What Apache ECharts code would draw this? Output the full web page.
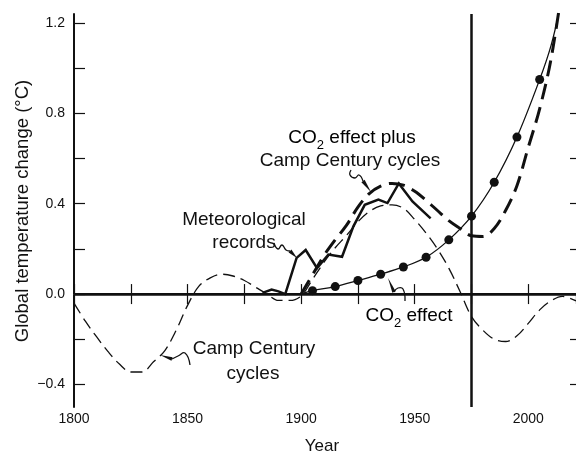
<!DOCTYPE html>
<html><head><meta charset="utf-8">
<script src="https://cdn.jsdelivr.net/npm/echarts@6/dist/echarts.min.js"></script>
<style>html,body{margin:0;padding:0;background:#fff}#c{width:576px;height:455px}</style>
</head><body><div id="c"></div>
<script>
// Camp Century cycles (thin dashed)
const campYears  = [1800,1805,1810,1815,1820,1825,1830,1835,1840,1845,1850,1855,1860,1865,1870,1875,1880,1885,1890,1895,1900,1905,1910,1915,1920,1925,1930,1935,1940,1945,1950,1955,1960,1965,1970,1975,1980,1985,1990,1995,2000,2005,2010,2015,2021];
const campValues = [-0.04,-0.12,-0.19,-0.255,-0.31,-0.345,-0.345,-0.30,-0.25,-0.16,-0.05,0.035,0.072,0.088,0.08,0.06,0.03,0.0,-0.028,-0.028,-0.008,0.065,0.14,0.205,0.26,0.32,0.365,0.39,0.395,0.38,0.33,0.27,0.2,0.115,0.01,-0.1,-0.16,-0.2,-0.21,-0.185,-0.13,-0.07,-0.03,-0.01,-0.03];
// CO2 effect plus Camp Century cycles (thick dashed)
const comboYears  = [1900,1905,1910,1915,1920,1925,1930,1935,1940,1945,1950,1955,1960,1965,1970,1975,1980,1985,1990,1995,2000,2005,2010,2015];
const comboValues = [0.0,0.085,0.17,0.24,0.305,0.385,0.445,0.478,0.49,0.482,0.455,0.415,0.37,0.325,0.29,0.258,0.255,0.29,0.37,0.48,0.65,0.82,1.04,1.36];
// Meteorological records (thick solid)
const meteoYears  = [1883,1887,1890,1893,1898,1902,1907,1912,1918,1923,1928,1934,1938,1943,1949,1957];
const meteoValues = [0.005,0.02,0.012,0.0,0.16,0.195,0.115,0.175,0.165,0.3,0.395,0.418,0.403,0.49,0.41,0.335];
// CO2 effect (thin solid with dots)
const co2Years  = [1900,1905,1915,1925,1935,1945,1955,1965,1975,1985,1995,2005,2010,2014];
const co2Values = [0.0,0.015,0.033,0.06,0.088,0.12,0.163,0.24,0.345,0.495,0.695,0.95,1.10,1.27];
const co2DotYears = [1905,1915,1925,1935,1945,1955,1965,1975,1985,1995,2005];
// axes
const xTickValues = [1800,1825,1850,1875,1900,1925,1950,1975,2000];
const xTickLabels = [1800,1850,1900,1950,2000];
const yTickValues = [-0.4,-0.2,0,0.2,0.4,0.6,0.8,1.0,1.2];
const yTickLabels = [-0.4,0,0.4,0.8,1.2];
const refYear = 1975;

const FONT = '"Liberation Sans", Arial, Helvetica, sans-serif';
const pairs = (xs, ys) => xs.map((x, i) => [x, ys[i]]);

const chart = echarts.init(document.getElementById('c'), null, {renderer: 'canvas'});

const xBase = {
  type: 'value', min: 1800, max: 2021, interval: 25,
  splitLine: {show: false},
  axisTick: {inside: true, length: 10, lineStyle: {color: '#111', width: 1.2}},
};
const yBase = {
  type: 'value', min: -0.5, max: 1.24,
  splitLine: {show: false},
};

function pointer(pts, tail, tip, hw) {
  const dx = tip[0] - tail[0], dy = tip[1] - tail[1];
  const L = Math.hypot(dx, dy);
  const px = -dy / L * hw, py = dx / L * hw;
  return [
    {type: 'polyline', shape: {points: pts, smooth: 0.5}, style: {stroke: '#111', lineWidth: 1.3, fill: null}, z: 50},
    {type: 'polygon', shape: {points: [[tail[0] + px, tail[1] + py], [tip[0], tip[1]], [tail[0] - px, tail[1] - py]]}, style: {fill: '#111'}, z: 50}
  ];
}

const richCO = {
  n: {fontSize: 19, fontFamily: FONT, color: '#111', lineHeight: 28},
  s: {fontSize: 13, fontFamily: FONT, color: '#111', lineHeight: 13, verticalAlign: 'bottom'}
};

const txt = (x, y, text, extra) => Object.assign({
  type: 'text', x: x, y: y, z: 60,
  style: {text: text, fontSize: 19, fontFamily: FONT, fill: '#111', align: 'center', verticalAlign: 'middle'}
}, extra || {});

const graphics = [
  // axis titles
  {type: 'text', x: 23, y: 211, rotation: Math.PI / 2, z: 60,
   style: {text: 'Global temperature change (°C)', fontSize: 18.5, fontFamily: FONT, fill: '#111', align: 'center', verticalAlign: 'middle'}},
  txt(322, 446, 'Year', {style: {text: 'Year', fontSize: 17, fontFamily: FONT, fill: '#111', align: 'center', verticalAlign: 'middle'}}),
  // annotations
  {type: 'text', x: 352, y: 138, z: 60, style: {text: '{n|CO}{s|2}{n| effect plus}', rich: richCO, align: 'center', verticalAlign: 'middle'}},
  txt(350, 161, 'Camp Century cycles'),
  txt(244, 220, 'Meteorological'),
  txt(244, 243, 'records'),
  {type: 'text', x: 409, y: 316, z: 60, style: {text: '{n|CO}{s|2}{n| effect}', rich: richCO, align: 'center', verticalAlign: 'middle'}},
  txt(254, 349, 'Camp Century'),
  txt(253, 374, 'cycles'),
].concat(
  pointer([[351, 170], [350, 175], [355, 178], [359, 175], [363, 181]], [363, 181], [371, 192], 2),
  pointer([[274, 243], [278, 249], [282, 245], [286, 250], [290, 251]], [290, 251], [297, 258], 2),
  pointer([[405, 301], [403, 289], [398, 288], [394, 292]], [394, 292], [388, 278], 1.8),
  pointer([[190, 365], [185, 353], [178, 356], [172, 359]], [172, 359], [160, 355], 1.8)
);

const option = {
  animation: false,
  backgroundColor: '#fff',
  grid: {left: 74, top: 14, width: 502, height: 393, containLabel: false},
  xAxis: [
    Object.assign({}, xBase, {
      position: 'bottom',
      axisLine: {show: true, lineStyle: {color: '#111', width: 2}},
      axisLabel: {
        show: true, fontSize: 14, fontFamily: FONT, color: '#111', margin: 5,
        showMaxLabel: false,
        formatter: v => xTickLabels.indexOf(v) >= 0 ? String(v) : ''
      }
    }),
    Object.assign({}, xBase, {
      position: 'top',
      axisLine: {show: true, lineStyle: {color: '#555', width: 1}},
      axisLabel: {show: false}
    })
  ],
  yAxis: [
    Object.assign({}, yBase, {
      position: 'left',
      axisLine: {show: true, lineStyle: {color: '#111', width: 2}},
      axisTick: {inside: true, length: 11, customValues: yTickValues, lineStyle: {color: '#111', width: 1.2}},
      axisLabel: {
        show: true, fontSize: 14, fontFamily: FONT, color: '#111', margin: 9,
        customValues: yTickLabels,
        formatter: v => (v < 0 ? '\u2212' : '') + Math.abs(v).toFixed(1)
      }
    }),
    Object.assign({}, yBase, {
      position: 'right',
      axisLine: {show: false},
      axisTick: {show: true, inside: true, length: 6, customValues: yTickValues, lineStyle: {color: '#111', width: 1.2}},
      axisLabel: {show: false}
    })
  ],
  series: [
    {
      name: 'Camp Century cycles', type: 'line', smooth: 0.35, symbol: 'none', clip: true,
      data: pairs(campYears, campValues),
      lineStyle: {color: '#111', width: 1.3, type: [12, 6]},
      markLine: {
        silent: true, symbol: 'none', label: {show: false},
        lineStyle: {color: '#111', width: 2.5, type: 'solid'},
        data: [{yAxis: 0}, {xAxis: refYear}]
      }
    },
    {
      name: 'CO2 effect plus Camp Century cycles', type: 'line', smooth: 0.35, symbol: 'none', clip: true,
      data: pairs(comboYears, comboValues),
      lineStyle: {color: '#111', width: 3, type: [16, 8]}
    },
    {
      name: 'Meteorological records', type: 'line', smooth: false, symbol: 'none', clip: true,
      data: pairs(meteoYears, meteoValues),
      lineStyle: {color: '#111', width: 2.5, join: 'miter'}
    },
    {
      name: 'CO2 effect', type: 'line', smooth: 0.35, clip: true,
      symbol: 'circle', symbolSize: 9,
      itemStyle: {color: '#111'},
      data: co2Years.map((y, i) => co2DotYears.indexOf(y) >= 0 ? [y, co2Values[i]] : {value: [y, co2Values[i]], symbol: 'none'}),
      lineStyle: {color: '#111', width: 1.3}
    }
  ],
  graphic: graphics
};
chart.setOption(option);
</script>
</body></html>
